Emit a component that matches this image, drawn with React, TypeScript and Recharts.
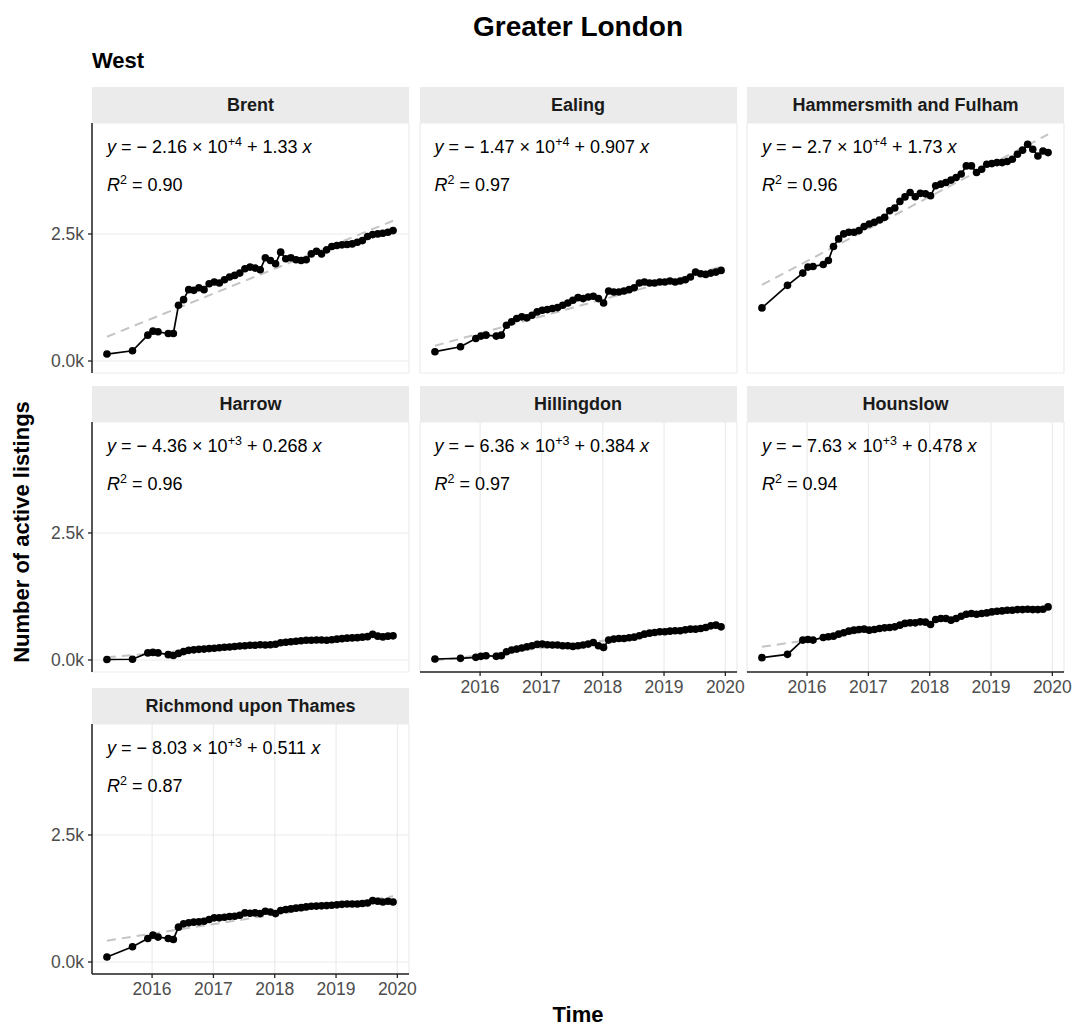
import React from "react";
import { ComposedChart, Line, XAxis, YAxis, CartesianGrid } from "recharts";

// scrape months (same for every borough)
const months = [
    "2015-04", "2015-09", "2015-12", "2016-01", "2016-02", "2016-04", "2016-05",
    "2016-06", "2016-07", "2016-08", "2016-09", "2016-10", "2016-11", "2016-12",
    "2017-01", "2017-02", "2017-03", "2017-04", "2017-05", "2017-06",
    "2017-07", "2017-08", "2017-09", "2017-10", "2017-11", "2017-12",
    "2018-01", "2018-02", "2018-03", "2018-04", "2018-05", "2018-06",
    "2018-07", "2018-08", "2018-09", "2018-10", "2018-11", "2018-12",
    "2019-01", "2019-02", "2019-03", "2019-04", "2019-05", "2019-06",
    "2019-07", "2019-08", "2019-09", "2019-10", "2019-11", "2019-12",
];

const boroughs = [
    "Brent",
    "Ealing",
    "Hammersmith and Fulham",
    "Harrow",
    "Hillingdon",
    "Hounslow",
    "Richmond upon Thames",
];

const brent = [
    137, 202, 509, 588, 575, 542, 542, 1097, 1208, 1404, 1391, 1443, 1404, 1521,
    1554, 1535, 1600, 1652, 1685, 1730, 1815, 1848, 1828, 1796, 2031, 1979,
    1913, 2142, 2011, 2031, 1992, 1979, 1992, 2109, 2161, 2109, 2188, 2253,
    2272, 2286, 2292, 2305, 2338, 2370, 2449, 2488, 2501, 2514, 2534, 2566,
];
const ealing = [
    183, 281, 444, 490, 509, 490, 509, 705, 771, 836, 869, 849, 901, 966,
    999, 1012, 1032, 1051, 1097, 1143, 1195, 1247, 1228, 1260, 1273, 1228,
    1143, 1378, 1358, 1358, 1378, 1404, 1443, 1535, 1554, 1535, 1535, 1554,
    1554, 1574, 1554, 1574, 1600, 1652, 1750, 1717, 1704, 1730, 1750, 1783,
];
const hammersmith = [
    1045, 1489, 1730, 1848, 1861, 1900, 1979, 2253, 2403, 2501, 2534, 2534, 2566, 2645,
    2697, 2730, 2775, 2827, 2958, 3010, 3141, 3230, 3317, 3232, 3300, 3290,
    3252, 3448, 3481, 3513, 3560, 3610, 3680, 3840, 3840, 3709, 3774, 3872,
    3885, 3905, 3905, 3925, 3970, 4068, 4150, 4264, 4166, 4036, 4133, 4101,
];
const harrow = [
    10, 15, 140, 150, 140, 105, 90, 130, 165, 190, 200, 210, 215, 225,
    230, 240, 250, 255, 265, 275, 280, 290, 290, 300, 295, 300,
    310, 340, 350, 360, 370, 380, 390, 390, 395, 395, 390, 400,
    410, 420, 430, 435, 440, 450, 460, 505, 470, 455, 470, 475,
];
const hillingdon = [
    20, 33, 52, 72, 85, 72, 85, 163, 196, 215, 235, 261, 281, 307,
    313, 300, 294, 294, 281, 281, 268, 281, 294, 313, 346, 281,
    248, 392, 411, 424, 424, 437, 450, 477, 509, 529, 542, 555,
    555, 568, 575, 575, 594, 607, 607, 620, 640, 672, 686, 653,
];
const hounslow = [
    46, 111, 392, 405, 392, 444, 457, 470, 509, 535, 568, 588, 601, 607,
    588, 601, 620, 633, 640, 653, 686, 720, 731, 731, 751, 745,
    699, 797, 816, 816, 784, 816, 862, 901, 914, 901, 914, 927,
    947, 960, 966, 979, 979, 992, 992, 999, 992, 992, 1000, 1045,
];
const richmond = [
    98, 300, 464, 529, 490, 464, 444, 686, 751, 771, 784, 790, 803, 836,
    869, 869, 882, 895, 901, 921, 966, 960, 966, 953, 999, 985,
    953, 1012, 1032, 1045, 1060, 1070, 1085, 1097, 1100, 1105, 1110, 1117,
    1125, 1135, 1143, 1143, 1143, 1150, 1162, 1208, 1195, 1182, 1195, 1182,
];
const seriesValues = [brent, ealing, hammersmith, harrow, hillingdon, hounslow, richmond];

// dashed lm fit, value at first and last scrape
const trendStart = [477, 300, 1500, 55, -10, 260, 420];
const trendEnd = [2760, 1855, 4460, 515, 650, 1080, 1295];

const eqIntercept = ["2.16", "1.47", "2.7", "4.36", "6.36", "7.63", "8.03"];
const eqExponent = ["+4", "+4", "+4", "+3", "+3", "+3", "+3"];
const eqSlope = ["1.33", "0.907", "1.73", "0.268", "0.384", "0.478", "0.511"];
const rSquared = ["0.90", "0.97", "0.96", "0.96", "0.97", "0.94", "0.87"];

const xTicks = [2016, 2017, 2018, 2019, 2020];
const yTicks = [0, 2500];

const toYear = (m: string) => {
    const [y, mo] = m.split("-").map(Number);
    return y + (mo - 1) / 12 + 5 / 365;
};

// layout
const COL_LEFT = [92, 419.5, 747];
const ROW_TOP = [123, 422, 724];
const PANEL_W = 317;
const PANEL_H = 250;
const STRIP_H = 36;
const Y_AXIS_W = 70;
const X_AXIS_H = 40;
const RIGHT_PAD = 25;
const FONT = "'Liberation Sans', Arial, Helvetica, sans-serif";

const Panel = ({ i }: { i: number }) => {
    const row = Math.floor(i / 3);
    const col = i % 3;
    const left = COL_LEFT[col];
    const top = ROW_TOP[row];
    const showX = i >= 4;
    const showY = col === 0;

    const data = months.map((m, k) => ({ x: toYear(m), y: seriesValues[i][k] }));
    const trend = [
        { x: toYear(months[0]), y: trendStart[i] },
        { x: toYear(months[months.length - 1]), y: trendEnd[i] },
    ];

    return (
        <>
            <div
                style={{
                    position: "absolute",
                    left,
                    top: top - STRIP_H,
                    width: PANEL_W,
                    height: STRIP_H,
                    lineHeight: `${STRIP_H}px`,
                    background: "#ebebeb",
                    textAlign: "center",
                    fontWeight: "bold",
                    fontSize: 18,
                    color: "#1a1a1a",
                }}
            >
                {boroughs[i]}
            </div>
            <div style={{ position: "absolute", left: left - Y_AXIS_W, top }}>
                <ComposedChart
                    width={Y_AXIS_W + PANEL_W + RIGHT_PAD}
                    height={PANEL_H + X_AXIS_H}
                    data={data}
                    margin={{ top: 0, right: RIGHT_PAD, bottom: 0, left: 0 }}
                >
                    <CartesianGrid stroke="#ebebeb" strokeWidth={1.2} />
                    <XAxis
                        type="number"
                        dataKey="x"
                        domain={[2015.02, 2020.19]}
                        ticks={xTicks}
                        height={X_AXIS_H}
                        axisLine={showX ? { stroke: "#222", strokeWidth: 1.5 } : false}
                        tickLine={showX ? { stroke: "#222", strokeWidth: 1.3 } : false}
                        tick={showX ? { fill: "#4d4d4d", fontSize: 17.5 } : false}
                        tickSize={4}
                        tickMargin={5}
                        allowDataOverflow
                    />
                    <YAxis
                        type="number"
                        domain={[-236, 4684]}
                        ticks={yTicks}
                        width={Y_AXIS_W}
                        axisLine={showY ? { stroke: "#222", strokeWidth: 1.5 } : false}
                        tickLine={showY ? { stroke: "#222", strokeWidth: 1.3 } : false}
                        tick={showY ? { fill: "#4d4d4d", fontSize: 17.5 } : false}
                        tickFormatter={(v: number) => `${(v / 1000).toFixed(1)}k`}
                        tickSize={4}
                        tickMargin={4}
                        allowDataOverflow
                    />
                    <Line
                        data={trend}
                        dataKey="y"
                        stroke="#c4c4c4"
                        strokeWidth={2}
                        strokeDasharray="9 6"
                        dot={false}
                        activeDot={false}
                        isAnimationActive={false}
                    />
                    <Line
                        dataKey="y"
                        stroke="#000"
                        strokeWidth={1.7}
                        dot={{ r: 3.8, fill: "#000", stroke: "#000", strokeWidth: 0 }}
                        activeDot={false}
                        isAnimationActive={false}
                    />
                </ComposedChart>
            </div>
            <div
                style={{
                    position: "absolute",
                    left: left + 15,
                    top: top + 12,
                    fontSize: 18,
                    lineHeight: "24px",
                    whiteSpace: "nowrap",
                    color: "#000",
                }}
            >
                <i>y</i> = {"\u2212"} {eqIntercept[i]} × 10
                <sup style={{ fontSize: 12.5, verticalAlign: 7, lineHeight: 0 }}>{eqExponent[i]}</sup> + {eqSlope[i]} <i>x</i>
            </div>
            <div
                style={{
                    position: "absolute",
                    left: left + 15,
                    top: top + 50,
                    fontSize: 18,
                    lineHeight: "24px",
                    whiteSpace: "nowrap",
                    color: "#000",
                }}
            >
                <i>R</i>
                <sup style={{ fontSize: 12.5, verticalAlign: 7, lineHeight: 0 }}>2</sup> = {rSquared[i]}
            </div>
        </>
    );
};

export default function App() {
    return (
        <div
            style={{
                position: "absolute",
                left: 0,
                top: 0,
                width: 1075,
                height: 1031,
                background: "#fff",
                fontFamily: FONT,
                overflow: "hidden",
            }}
        >
            <div
                style={{
                    position: "absolute",
                    left: 0,
                    top: 10,
                    width: 1156,
                    height: 34,
                    lineHeight: "34px",
                    textAlign: "center",
                    fontWeight: "bold",
                    fontSize: 28,
                    color: "#000",
                }}
            >
                Greater London
            </div>
            <div
                style={{
                    position: "absolute",
                    left: 92,
                    top: 47,
                    height: 28,
                    lineHeight: "28px",
                    fontWeight: "bold",
                    fontSize: 22,
                    color: "#000",
                }}
            >
                West
            </div>
            <div
                style={{
                    position: "absolute",
                    left: 22 - 200,
                    top: 532 - 14,
                    width: 400,
                    height: 28,
                    lineHeight: "28px",
                    textAlign: "center",
                    fontWeight: "bold",
                    fontSize: 22,
                    transform: "rotate(-90deg)",
                    color: "#000",
                }}
            >
                Number of active listings
            </div>
            <div
                style={{
                    position: "absolute",
                    left: 578 - 100,
                    top: 1001,
                    width: 200,
                    height: 28,
                    lineHeight: "28px",
                    textAlign: "center",
                    fontWeight: "bold",
                    fontSize: 22,
                    color: "#000",
                }}
            >
                Time
            </div>
            {boroughs.map((_, i) => (
                <Panel key={i} i={i} />
            ))}
        </div>
    );
}
